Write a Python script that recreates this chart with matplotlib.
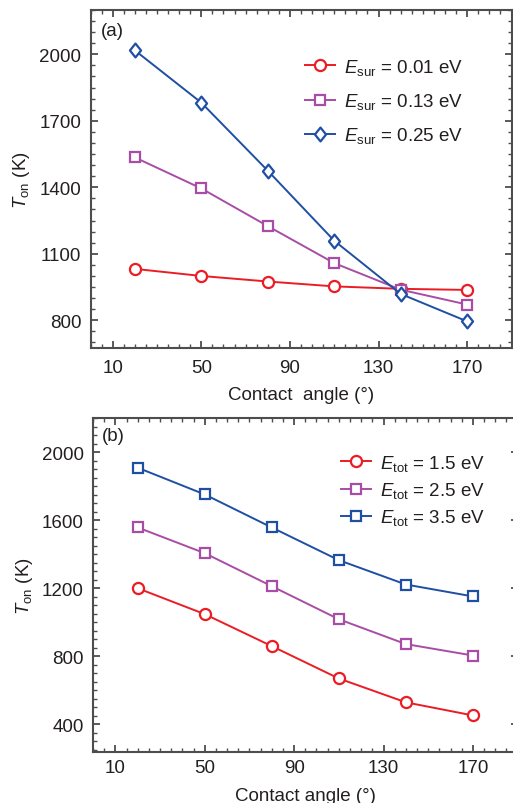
import numpy as np
import matplotlib
matplotlib.use("Agg")
import matplotlib.pyplot as plt
from matplotlib.path import Path
from matplotlib.ticker import MultipleLocator

plt.rcParams['font.family'] = ['Liberation Sans', 'DejaVu Sans']
plt.rcParams['mathtext.fontset'] = 'custom'
plt.rcParams['mathtext.rm'] = 'Liberation Sans'
plt.rcParams['mathtext.it'] = 'Liberation Sans:italic'

# data
angle = [20, 50, 80, 110, 140, 170]

esur_labels = ['0.01', '0.13', '0.25']
ton_a_001 = [1032, 1000, 975, 953, 942, 937]
ton_a_013 = [1535, 1395, 1225, 1058, 938, 871]
ton_a_025 = [2018, 1782, 1475, 1159, 919, 795]

etot_labels = ['1.5', '2.5', '3.5']
ton_b_15 = [1200, 1048, 860, 670, 530, 453]
ton_b_25 = [1557, 1406, 1212, 1018, 872, 805]
ton_b_35 = [1908, 1751, 1557, 1365, 1222, 1152]

red = '#ec1c24'
mag = '#a84da5'
blue = '#1e4fa3'
txt = '#231f20'

# diamond a bit wider than matplotlib's thin one
diamond = Path([(0, 1), (0.8, 0), (0, -1), (-0.8, 0), (0, 1)],
               [Path.MOVETO, Path.LINETO, Path.LINETO, Path.LINETO, Path.CLOSEPOLY])

fig = plt.figure(figsize=(5.13, 8.04), dpi=100)
W, H = 513., 804.
ax1 = fig.add_axes([90.5/W, 1-349/H, (511.5-90.5)/W, (349-11)/H])
ax2 = fig.add_axes([93/W, 1-752.7/H, (517.6-93)/W, (752.7-419)/H])

def style(ax, xpad):
    for s in ax.spines.values():
        s.set_linewidth(1.5)
        s.set_color('#4d4d4d')
    ax.tick_params(which='both', direction='in', top=True, right=True,
                   colors='#4d4d4d', labelcolor=txt, labelsize=13.5)
    ax.tick_params(which='major', length=5, width=1.3)
    ax.tick_params(axis='x', which='major', pad=xpad)
    ax.tick_params(axis='y', which='major', pad=6.5)
    ax.tick_params(which='minor', length=3, width=1.0)
    ax.xaxis.set_minor_locator(MultipleLocator(5))
    ax.set_xticks([10, 50, 90, 130, 170])
    ax.set_xlim(0, 190)

lkw = dict(lw=1.4, mfc='white', mew=1.6)

ax1.plot(angle, ton_a_001, '-o', color=red, ms=8, label=r'$E_{\rm sur}$ = ' + esur_labels[0] + ' eV', **lkw)
ax1.plot(angle, ton_a_013, '-s', color=mag, ms=6.5, label=r'$E_{\rm sur}$ = ' + esur_labels[1] + ' eV', **lkw)
ax1.plot(angle, ton_a_025, '-', marker=diamond, color=blue, ms=10, label=r'$E_{\rm sur}$ = ' + esur_labels[2] + ' eV', **lkw)
style(ax1, 8)
ax1.set_ylim(675, 2200)
ax1.set_yticks([800, 1100, 1400, 1700, 2000])
ax1.yaxis.set_minor_locator(MultipleLocator(50))
ax1.set_xlabel('Contact  angle (°)', fontsize=13.5, color=txt, labelpad=7)
ax1.set_ylabel(r'$T_{\rm on}$ (K)', fontsize=13.5, color=txt)
ax1.yaxis.set_label_coords(-0.139, 0.5)
ax1.text(0.025, 0.938, '(a)', transform=ax1.transAxes, fontsize=13.5, color=txt, va='center', ha='left')
ax1.legend(loc='upper left', bbox_to_anchor=(305/W, 1-58/H), bbox_transform=fig.transFigure,
           frameon=False, fontsize=13.5, handlelength=1.6, handletextpad=0.5,
           labelspacing=0.75, borderpad=0, borderaxespad=0, labelcolor=txt)

ax2.plot(angle, ton_b_15, '-o', color=red, ms=8, label=r'$E_{\rm tot}$ = ' + etot_labels[0] + ' eV', **lkw)
ax2.plot(angle, ton_b_25, '-s', color=mag, ms=6.5, label=r'$E_{\rm tot}$ = ' + etot_labels[1] + ' eV', **lkw)
ax2.plot(angle, ton_b_35, '-s', color=blue, ms=6.5, label=r'$E_{\rm tot}$ = ' + etot_labels[2] + ' eV', **lkw)
style(ax2, 5)
ax2.set_ylim(240, 2200)
ax2.set_yticks([400, 800, 1200, 1600, 2000])
ax2.yaxis.set_minor_locator(MultipleLocator(50))
ax2.set_xlabel('Contact angle (°)', fontsize=13.5, color=txt, labelpad=8)
ax2.set_ylabel(r'$T_{\rm on}$ (K)', fontsize=13.5, color=txt)
ax2.yaxis.set_label_coords(-0.137, 0.5)
ax2.text(0.02, 0.947, '(b)', transform=ax2.transAxes, fontsize=13.5, color=txt, va='center', ha='left')
ax2.legend(loc='upper left', bbox_to_anchor=(341/W, 1-454/H), bbox_transform=fig.transFigure,
           frameon=False, fontsize=13.5, handlelength=1.6, handletextpad=0.5,
           labelspacing=0.38, borderpad=0, borderaxespad=0, labelcolor=txt)

fig.savefig('out.png', dpi=100)
